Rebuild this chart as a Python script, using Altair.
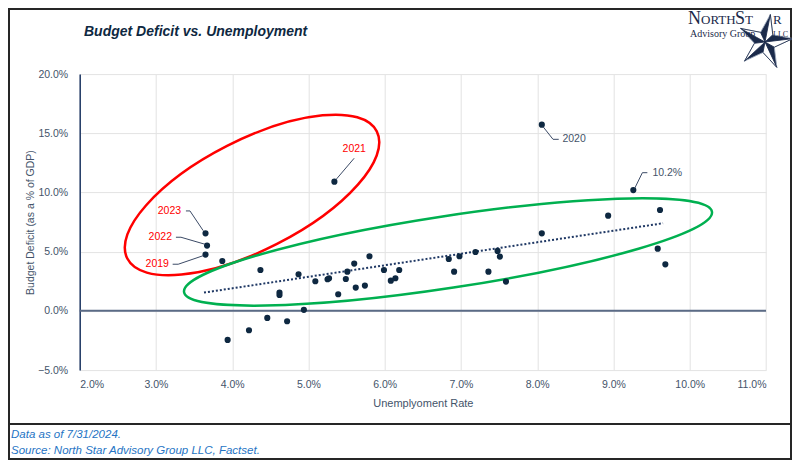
import math
import altair as alt
import pandas as pd

# ---------------- data ----------------
unemployment = [3.65, 3.67, 3.65, 5.34, 8.06, 9.26, 3.87, 4.37, 4.87, 5.09, 5.25, 5.27,
                5.49, 5.51, 5.60, 5.80, 5.99, 6.08, 6.14, 6.19, 5.39, 5.62, 5.74, 4.62,
                4.62, 3.94, 4.22, 4.46, 4.72, 4.94, 9.61, 8.93, 8.06, 9.58, 9.68, 6.84,
                6.98, 7.19, 7.48, 7.51, 6.91, 7.36, 7.59]
deficit = [4.75, 5.51, 6.55, 10.91, 15.73, 10.20, 4.21, 3.45, 3.09, 2.50, 2.67, 2.75,
           2.69, 3.31, 3.99, 4.61, 3.45, 2.55, 2.75, 3.45, 1.40, 1.96, 2.13, 1.54,
           1.34, -2.46, -1.64, -0.60, -0.88, 0.08, 8.52, 8.04, 6.55, 5.25, 3.93, 4.38,
           4.61, 4.97, 5.06, 4.58, 3.31, 3.31, 2.47]

x_ticks = [2, 3, 4, 5, 6, 7, 8, 9, 10, 11]
y_ticks = [-5, 0, 5, 10, 15, 20]

trend_x = [3.63, 9.65]
trend_y = [1.54, 7.40]

label_text = ["2023", "2022", "2019", "2021", "2020", "10.2%"]
label_x = [3.33, 3.21, 3.17, 5.60, 8.33, 9.51]
label_y = [8.44, 6.22, 3.94, 13.65, 14.49, 11.67]
label_side = ["right", "right", "right", "center", "left", "left"]
label_tone = ["red", "red", "red", "red", "gray", "gray"]

leader_id = ["2023"] * 3 + ["2022"] * 3 + ["2019"] * 3 + ["2021"] * 2 + ["2020"] * 3 + ["10.2%"] * 3
leader_x = [3.62, 3.446, 3.393, 3.642, 3.328, 3.262, 3.62, 3.292, 3.219,
            5.368, 5.599, 8.076, 8.207, 8.282, 9.278, 9.379, 9.444]
leader_y = [6.77, 8.44, 8.44, 5.625, 6.216, 6.216, 4.66, 3.936, 3.936,
            11.14, 12.89, 15.56, 14.49, 14.49, 10.35, 11.67, 11.67]

ellipse_x = [4.26, 6.83]
ellipse_y = [9.79, 4.97]

# ---------------- styling ----------------
NAVY = "#0E2841"
SLATE = "#44546A"
FONT = "Liberation Sans"
SERIF = "Liberation Serif"

W, H = 686.3, 295.9
PX0, PY0 = 79.7, 74.1  # page position of plot origin


def rx(px):
    return px - PX0


def ry(py):
    return py - PY0


def ellipse_path(r):
    k = 0.5523
    f = lambda v: f"{v:.4f}"
    return (f"M1,0 C1,{f(k*r)} {f(k)},{f(r)} 0,{f(r)} "
            f"C{f(-k)},{f(r)} -1,{f(k*r)} -1,0 "
            f"C-1,{f(-k*r)} {f(-k)},{f(-r)} 0,{f(-r)} "
            f"C{f(k)},{f(-r)} 1,{f(-k*r)} 1,0 Z")


def star_points(inner):
    pts = []
    for i in range(10):
        a = math.radians(-90 + 36 * i)
        r = 1.0 if i % 2 == 0 else inner
        pts.append((r * math.cos(a), r * math.sin(a)))
    return pts


sp = star_points(0.38)
star_path = "M" + " L".join(f"{x:.4f},{y:.4f}" for x, y in sp) + " Z"
facet_path = " ".join(
    f"M0,0 L{sp[2*i][0]:.4f},{sp[2*i][1]:.4f} L{sp[2*i+1][0]:.4f},{sp[2*i+1][1]:.4f} Z"
    for i in range(5))

fmt = "format(datum.value, '.1f') + '%'"
xs = alt.Scale(domain=[2, 11], nice=False, zero=False)
ys = alt.Scale(domain=[-5, 20], nice=False, zero=False)

x_axis = alt.Axis(values=x_ticks, labelExpr=fmt, grid=True, gridColor="#E3E3E3", gridWidth=1,
                  domain=False, ticks=False, tickSize=0, labelPadding=9, labelColor=SLATE,
                  labelFont=FONT, labelFontSize=10.5, title="Unemplyoment Rate",
                  titleFont=FONT, titleFontSize=11, titleFontWeight="normal",
                  titleColor=SLATE, titleY=33, titleBaseline="middle")
y_axis = alt.Axis(values=y_ticks, labelExpr=fmt, grid=True, gridColor="#E3E3E3", gridWidth=1,
                  domain=True, domainColor="#1F3864", domainWidth=1.5, ticks=False, tickSize=0,
                  labelPadding=12, labelColor=SLATE, labelFont=FONT, labelFontSize=10.5,
                  title="Budget Deficit (as a % of GDP)", titleFont=FONT, titleFontSize=10.5,
                  titleFontWeight="normal", titleColor=SLATE, titleX=-48.7,
                  titleBaseline="middle")

X = alt.X("u:Q", scale=xs, axis=x_axis)
Y = alt.Y("d:Q", scale=ys, axis=y_axis)

pts = pd.DataFrame({"u": unemployment, "d": deficit})
trend = pd.DataFrame({"u": trend_x, "d": trend_y})
labels = pd.DataFrame({"u": label_x, "d": label_y, "t": label_text,
                       "side": label_side, "tone": label_tone})
leaders = pd.DataFrame({"u": leader_x, "d": leader_y, "id": leader_id,
                        "o": list(range(len(leader_x)))})
ell = pd.DataFrame({"u": ellipse_x, "d": ellipse_y, "k": ["red", "green"]})
one = pd.DataFrame({"a": [0]})

# ---------------- decorations ----------------
frame = alt.Chart(one).mark_rect(fillOpacity=0, stroke="#262626", strokeWidth=2).encode(
    x=alt.value(rx(9)), x2=alt.value(rx(791)), y=alt.value(ry(9)), y2=alt.value(ry(459)))
divider = alt.Chart(one).mark_rule(color="#262626", strokeWidth=2).encode(
    x=alt.value(rx(9)), x2=alt.value(rx(791)), y=alt.value(ry(424)))


def txt(text, px, py, size, color, font=FONT, weight="normal", style="normal",
        align="left", baseline="middle"):
    return alt.Chart(one).mark_text(text=text, font=font, fontSize=size, color=color,
                                    fontWeight=weight, fontStyle=style, align=align,
                                    baseline=baseline).encode(
        x=alt.value(rx(px)), y=alt.value(ry(py)))


title = txt("Budget Deficit vs. Unemployment", 84, 32, 14, NAVY, weight="bold", style="italic")
foot1 = txt("Data as of 7/31/2024.", 11, 435, 11.5, "#2574C4", style="italic")
foot2 = txt("Source: North Star Advisory Group LLC, Factset.", 11, 451, 11.5, "#2574C4",
            style="italic")

LOGO = "#1B2A4A"
logo = [
    txt("N", 688, 24, 18, LOGO, font=SERIF, baseline="alphabetic"),
    txt("ORTH", 701, 24, 13, LOGO, font=SERIF, baseline="alphabetic"),
    txt("S", 735, 24, 18, LOGO, font=SERIF, baseline="alphabetic"),
    txt("T", 745, 24, 13, LOGO, font=SERIF, baseline="alphabetic"),
    txt("R", 773, 24, 13, LOGO, font=SERIF, baseline="alphabetic"),
    txt("Advisory Group", 690, 37, 10, LOGO, font=SERIF, baseline="alphabetic"),
    txt("LLC", 773, 37, 8, LOGO, font=SERIF, baseline="alphabetic"),
]
STAR_SIZE = 4 * 28 * 28
star = alt.Chart(one).mark_point(shape=star_path, size=STAR_SIZE, angle=11, filled=True,
                                 fill=LOGO, stroke="#9AA6BA", strokeWidth=0.8,
                                 opacity=1).encode(x=alt.value(rx(765)), y=alt.value(ry(42)))
facets = alt.Chart(one).mark_point(shape=facet_path, size=STAR_SIZE, angle=11, filled=True,
                                   fill="white", stroke=LOGO, strokeWidth=0.8,
                                   opacity=1).encode(x=alt.value(rx(765)), y=alt.value(ry(42)))

# ---------------- data layers ----------------
zero = alt.Chart(pd.DataFrame({"d": [0]})).mark_rule(color="#5B6B86", strokeWidth=2).encode(y=Y)

red_ell = alt.Chart(ell).transform_filter("datum.k == 'red'").mark_point(
    shape=ellipse_path(55 / 140), size=4 * 140 * 140, angle=333, filled=False,
    color="#FF0000", strokeWidth=2.5, opacity=1).encode(x=X, y=Y)
green_ell = alt.Chart(ell).transform_filter("datum.k == 'green'").mark_point(
    shape=ellipse_path(36 / 267), size=4 * 267 * 267, angle=351.35, filled=False,
    color="#00B050", strokeWidth=2.5, opacity=1).encode(x=X, y=Y)

trend_line = alt.Chart(trend).mark_line(color="#1F3864", strokeWidth=2,
                                        strokeDash=[2, 2]).encode(x=X, y=Y)
dots = alt.Chart(pts).mark_circle(size=38, color=NAVY, opacity=1).encode(x=X, y=Y)
lead = alt.Chart(leaders).mark_line(color="#3B4A66", strokeWidth=1).encode(
    x=X, y=Y, detail="id:N", order="o:Q")

lab_layers = []
for side in ["right", "center", "left"]:
    for tone, col in [("red", "#FF0000"), ("gray", SLATE)]:
        lab_layers.append(
            alt.Chart(labels).transform_filter(
                f"datum.side == '{side}' && datum.tone == '{tone}'").mark_text(
                align=side, baseline="middle", font=FONT, fontSize=10.5, color=col).encode(
                x=X, y=Y, text="t:N"))

chart = alt.layer(
    frame, divider, title, foot1, foot2, star, facets, *logo,
    zero, red_ell, green_ell, trend_line, dots, lead, *lab_layers
).properties(
    width=W, height=H,
    padding={"left": 71.7, "top": 66.1, "right": 26, "bottom": 90},
    autosize=alt.AutoSizeParams(type="none"),
    background="white",
).configure_view(strokeWidth=0)

chart.save("out.html", embed_options={"renderer": "svg", "actions": False})
